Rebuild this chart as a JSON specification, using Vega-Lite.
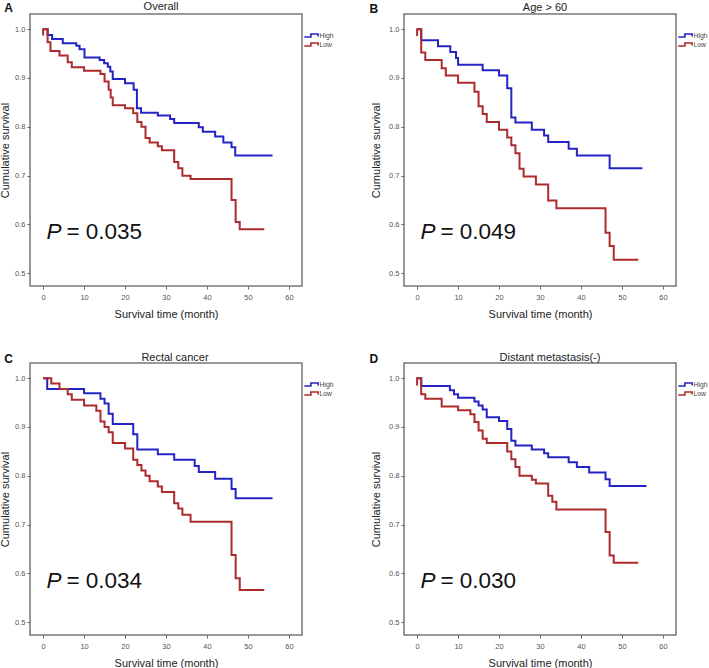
{
  "$schema": "https://vega.github.io/schema/vega-lite/v6.json",
  "padding": {"left": -2, "top": 0, "right": 0, "bottom": 0},
  "background": "white",
  "datasets": {
    "km": [
      {"p":"A","g":"High","i":0,"t":0,"s":1.0},{"p":"A","g":"High","i":1,"t":1.1,"s":0.988},{"p":"A","g":"High","i":2,"t":2.2,"s":0.98},{"p":"A","g":"High","i":3,"t":4.8,"s":0.971},{"p":"A","g":"High","i":4,"t":8.1,"s":0.966},{"p":"A","g":"High","i":5,"t":8.9,"s":0.959},{"p":"A","g":"High","i":6,"t":10.1,"s":0.942},{"p":"A","g":"High","i":7,"t":13.8,"s":0.937},{"p":"A","g":"High","i":8,"t":14.9,"s":0.93},{"p":"A","g":"High","i":9,"t":15.8,"s":0.923},{"p":"A","g":"High","i":10,"t":16.4,"s":0.913},{"p":"A","g":"High","i":11,"t":17,"s":0.898},{"p":"A","g":"High","i":12,"t":20,"s":0.889},{"p":"A","g":"High","i":13,"t":22.1,"s":0.876},{"p":"A","g":"High","i":14,"t":22.9,"s":0.838},{"p":"A","g":"High","i":15,"t":23.9,"s":0.829},{"p":"A","g":"High","i":16,"t":28,"s":0.823},{"p":"A","g":"High","i":17,"t":31,"s":0.816},{"p":"A","g":"High","i":18,"t":32,"s":0.808},{"p":"A","g":"High","i":19,"t":38,"s":0.799},{"p":"A","g":"High","i":20,"t":39,"s":0.79},{"p":"A","g":"High","i":21,"t":42,"s":0.78},{"p":"A","g":"High","i":22,"t":44,"s":0.768},{"p":"A","g":"High","i":23,"t":46,"s":0.758},{"p":"A","g":"High","i":24,"t":46.9,"s":0.741},{"p":"A","g":"High","i":25,"t":56,"s":0.741},
      {"p":"A","g":"Low","i":0,"t":0,"s":0.987},{"p":"A","g":"Low","i":1,"t":0,"s":1.0},{"p":"A","g":"Low","i":2,"t":1.1,"s":0.973},{"p":"A","g":"Low","i":3,"t":1.8,"s":0.955},{"p":"A","g":"Low","i":4,"t":4,"s":0.946},{"p":"A","g":"Low","i":5,"t":6,"s":0.932},{"p":"A","g":"Low","i":6,"t":7,"s":0.922},{"p":"A","g":"Low","i":7,"t":10,"s":0.915},{"p":"A","g":"Low","i":8,"t":14,"s":0.908},{"p":"A","g":"Low","i":9,"t":15,"s":0.893},{"p":"A","g":"Low","i":10,"t":16,"s":0.876},{"p":"A","g":"Low","i":11,"t":16.5,"s":0.86},{"p":"A","g":"Low","i":12,"t":17,"s":0.844},{"p":"A","g":"Low","i":13,"t":20,"s":0.838},{"p":"A","g":"Low","i":14,"t":22,"s":0.828},{"p":"A","g":"Low","i":15,"t":23,"s":0.81},{"p":"A","g":"Low","i":16,"t":24,"s":0.8},{"p":"A","g":"Low","i":17,"t":25,"s":0.777},{"p":"A","g":"Low","i":18,"t":26,"s":0.768},{"p":"A","g":"Low","i":19,"t":28,"s":0.76},{"p":"A","g":"Low","i":20,"t":29,"s":0.752},{"p":"A","g":"Low","i":21,"t":32,"s":0.728},{"p":"A","g":"Low","i":22,"t":33,"s":0.715},{"p":"A","g":"Low","i":23,"t":34,"s":0.7},{"p":"A","g":"Low","i":24,"t":36,"s":0.693},{"p":"A","g":"Low","i":25,"t":46,"s":0.65},{"p":"A","g":"Low","i":26,"t":47,"s":0.605},{"p":"A","g":"Low","i":27,"t":48,"s":0.59},{"p":"A","g":"Low","i":28,"t":54,"s":0.59},
      {"p":"B","g":"High","i":0,"t":0,"s":1.0},{"p":"B","g":"High","i":1,"t":1,"s":0.977},{"p":"B","g":"High","i":2,"t":5.1,"s":0.965},{"p":"B","g":"High","i":3,"t":8.1,"s":0.953},{"p":"B","g":"High","i":4,"t":9.5,"s":0.941},{"p":"B","g":"High","i":5,"t":10,"s":0.927},{"p":"B","g":"High","i":6,"t":16,"s":0.916},{"p":"B","g":"High","i":7,"t":20,"s":0.905},{"p":"B","g":"High","i":8,"t":22,"s":0.879},{"p":"B","g":"High","i":9,"t":23,"s":0.819},{"p":"B","g":"High","i":10,"t":24,"s":0.809},{"p":"B","g":"High","i":11,"t":28,"s":0.794},{"p":"B","g":"High","i":12,"t":31,"s":0.782},{"p":"B","g":"High","i":13,"t":32,"s":0.769},{"p":"B","g":"High","i":14,"t":37,"s":0.755},{"p":"B","g":"High","i":15,"t":39,"s":0.741},{"p":"B","g":"High","i":16,"t":47,"s":0.715},{"p":"B","g":"High","i":17,"t":55,"s":0.715},
      {"p":"B","g":"Low","i":0,"t":0,"s":0.986},{"p":"B","g":"Low","i":1,"t":0,"s":1.0},{"p":"B","g":"Low","i":2,"t":1,"s":0.952},{"p":"B","g":"Low","i":3,"t":2,"s":0.937},{"p":"B","g":"Low","i":4,"t":6,"s":0.92},{"p":"B","g":"Low","i":5,"t":7,"s":0.905},{"p":"B","g":"Low","i":6,"t":10,"s":0.89},{"p":"B","g":"Low","i":7,"t":14,"s":0.872},{"p":"B","g":"Low","i":8,"t":15,"s":0.842},{"p":"B","g":"Low","i":9,"t":16,"s":0.826},{"p":"B","g":"Low","i":10,"t":17,"s":0.81},{"p":"B","g":"Low","i":11,"t":20,"s":0.794},{"p":"B","g":"Low","i":12,"t":22,"s":0.778},{"p":"B","g":"Low","i":13,"t":23,"s":0.762},{"p":"B","g":"Low","i":14,"t":24,"s":0.746},{"p":"B","g":"Low","i":15,"t":25,"s":0.714},{"p":"B","g":"Low","i":16,"t":26,"s":0.698},{"p":"B","g":"Low","i":17,"t":29,"s":0.682},{"p":"B","g":"Low","i":18,"t":32,"s":0.649},{"p":"B","g":"Low","i":19,"t":34,"s":0.633},{"p":"B","g":"Low","i":20,"t":46,"s":0.583},{"p":"B","g":"Low","i":21,"t":47,"s":0.556},{"p":"B","g":"Low","i":22,"t":48,"s":0.528},{"p":"B","g":"Low","i":23,"t":54,"s":0.528},
      {"p":"C","g":"High","i":0,"t":0,"s":1.0},{"p":"C","g":"High","i":1,"t":1,"s":0.978},{"p":"C","g":"High","i":2,"t":10,"s":0.969},{"p":"C","g":"High","i":3,"t":14,"s":0.958},{"p":"C","g":"High","i":4,"t":15,"s":0.948},{"p":"C","g":"High","i":5,"t":16,"s":0.927},{"p":"C","g":"High","i":6,"t":17,"s":0.906},{"p":"C","g":"High","i":7,"t":22,"s":0.885},{"p":"C","g":"High","i":8,"t":23,"s":0.854},{"p":"C","g":"High","i":9,"t":28,"s":0.844},{"p":"C","g":"High","i":10,"t":32,"s":0.833},{"p":"C","g":"High","i":11,"t":37,"s":0.82},{"p":"C","g":"High","i":12,"t":38,"s":0.808},{"p":"C","g":"High","i":13,"t":42,"s":0.794},{"p":"C","g":"High","i":14,"t":46,"s":0.773},{"p":"C","g":"High","i":15,"t":47,"s":0.754},{"p":"C","g":"High","i":16,"t":56,"s":0.754},
      {"p":"C","g":"Low","i":0,"t":0,"s":1.0},{"p":"C","g":"Low","i":1,"t":2,"s":0.989},{"p":"C","g":"Low","i":2,"t":4,"s":0.978},{"p":"C","g":"Low","i":3,"t":6,"s":0.967},{"p":"C","g":"Low","i":4,"t":7,"s":0.956},{"p":"C","g":"Low","i":5,"t":10,"s":0.944},{"p":"C","g":"Low","i":6,"t":13,"s":0.933},{"p":"C","g":"Low","i":7,"t":14,"s":0.911},{"p":"C","g":"Low","i":8,"t":15,"s":0.9},{"p":"C","g":"Low","i":9,"t":16,"s":0.889},{"p":"C","g":"Low","i":10,"t":17,"s":0.867},{"p":"C","g":"Low","i":11,"t":20,"s":0.856},{"p":"C","g":"Low","i":12,"t":22,"s":0.833},{"p":"C","g":"Low","i":13,"t":23,"s":0.822},{"p":"C","g":"Low","i":14,"t":24,"s":0.811},{"p":"C","g":"Low","i":15,"t":25,"s":0.8},{"p":"C","g":"Low","i":16,"t":26,"s":0.789},{"p":"C","g":"Low","i":17,"t":28,"s":0.778},{"p":"C","g":"Low","i":18,"t":29,"s":0.767},{"p":"C","g":"Low","i":19,"t":32,"s":0.744},{"p":"C","g":"Low","i":20,"t":33,"s":0.733},{"p":"C","g":"Low","i":21,"t":34,"s":0.72},{"p":"C","g":"Low","i":22,"t":36,"s":0.706},{"p":"C","g":"Low","i":23,"t":46,"s":0.638},{"p":"C","g":"Low","i":24,"t":47,"s":0.59},{"p":"C","g":"Low","i":25,"t":48,"s":0.566},{"p":"C","g":"Low","i":26,"t":54,"s":0.566},
      {"p":"D","g":"High","i":0,"t":0,"s":1.0},{"p":"D","g":"High","i":1,"t":1,"s":0.984},{"p":"D","g":"High","i":2,"t":8,"s":0.975},{"p":"D","g":"High","i":3,"t":9,"s":0.967},{"p":"D","g":"High","i":4,"t":10,"s":0.96},{"p":"D","g":"High","i":5,"t":14,"s":0.952},{"p":"D","g":"High","i":6,"t":15,"s":0.944},{"p":"D","g":"High","i":7,"t":16,"s":0.936},{"p":"D","g":"High","i":8,"t":17,"s":0.92},{"p":"D","g":"High","i":9,"t":20,"s":0.912},{"p":"D","g":"High","i":10,"t":22,"s":0.896},{"p":"D","g":"High","i":11,"t":23,"s":0.872},{"p":"D","g":"High","i":12,"t":24,"s":0.862},{"p":"D","g":"High","i":13,"t":28,"s":0.854},{"p":"D","g":"High","i":14,"t":31,"s":0.846},{"p":"D","g":"High","i":15,"t":32,"s":0.838},{"p":"D","g":"High","i":16,"t":37,"s":0.828},{"p":"D","g":"High","i":17,"t":39,"s":0.818},{"p":"D","g":"High","i":18,"t":42,"s":0.807},{"p":"D","g":"High","i":19,"t":46,"s":0.793},{"p":"D","g":"High","i":20,"t":47,"s":0.779},{"p":"D","g":"High","i":21,"t":56,"s":0.779},
      {"p":"D","g":"Low","i":0,"t":0,"s":0.985},{"p":"D","g":"Low","i":1,"t":0,"s":1.0},{"p":"D","g":"Low","i":2,"t":1,"s":0.967},{"p":"D","g":"Low","i":3,"t":2,"s":0.958},{"p":"D","g":"Low","i":4,"t":6,"s":0.942},{"p":"D","g":"Low","i":5,"t":10,"s":0.934},{"p":"D","g":"Low","i":6,"t":13,"s":0.926},{"p":"D","g":"Low","i":7,"t":14,"s":0.91},{"p":"D","g":"Low","i":8,"t":15,"s":0.893},{"p":"D","g":"Low","i":9,"t":16,"s":0.876},{"p":"D","g":"Low","i":10,"t":17,"s":0.867},{"p":"D","g":"Low","i":11,"t":22,"s":0.85},{"p":"D","g":"Low","i":12,"t":23,"s":0.834},{"p":"D","g":"Low","i":13,"t":24,"s":0.818},{"p":"D","g":"Low","i":14,"t":25,"s":0.8},{"p":"D","g":"Low","i":15,"t":28,"s":0.792},{"p":"D","g":"Low","i":16,"t":29,"s":0.784},{"p":"D","g":"Low","i":17,"t":32,"s":0.759},{"p":"D","g":"Low","i":18,"t":33,"s":0.747},{"p":"D","g":"Low","i":19,"t":34,"s":0.731},{"p":"D","g":"Low","i":20,"t":46,"s":0.685},{"p":"D","g":"Low","i":21,"t":47,"s":0.637},{"p":"D","g":"Low","i":22,"t":48,"s":0.622},{"p":"D","g":"Low","i":23,"t":54,"s":0.622}
    ],
    "pv": [
      {"p":"A","v":"= 0.035"},{"p":"B","v":"= 0.049"},{"p":"C","v":"= 0.034"},{"p":"D","v":"= 0.030"}
    ]
  },
  "config": {
    "font": "Liberation Sans",
    "view": {"stroke": "#777", "strokeWidth": 1.5},
    "axis": {"domain": false, "grid": false, "tickColor": "#666", "tickSize": 3, "labelFontSize": 7.5, "labelColor": "#555", "titleFontSize": 11, "titleFontWeight": "normal", "titleColor": "#222", "labelPadding": 2},
    "axisX": {"titlePadding": 8, "labelPadding": 4},
    "axisY": {"titlePadding": 4},
    "title": {"fontSize": 11, "fontWeight": "normal", "color": "#222", "offset": -10},
    "legend": {"orient": "none", "legendX": 280.5, "legendY": 17.5, "title": null, "symbolType": "M-3.4,0.5H-1.2V-0.5H1.2V0.3", "symbolSize": 36, "symbolStrokeWidth": 1.6, "symbolFillColor": "transparent", "labelFontSize": 6.8, "labelColor": "#444", "labelOffset": 1, "rowPadding": -1.7, "padding": 0}
  },
  "resolve": {"scale": {"color": "independent"}},
  "columns": 2,
  "spacing": {"row": 77, "column": 102},
  "bounds": "flush",
  "concat": [
    {
      "width": 272, "height": 272,
      "title": {"text": "Overall", "dx": -5},
      "layer": [
        {"data": {"name": "km"}, "transform": [{"filter": "datum.p == 'A'"}],
         "mark": {"type": "line", "interpolate": "step-after", "strokeWidth": 2},
         "encoding": {
           "x": {"field": "t", "type": "quantitative", "scale": {"domain": [-3.2, 63.2], "nice": false, "zero": false}, "axis": {"values": [0,10,20,30,40,50,60], "title": "Survival time (month)"}},
           "y": {"field": "s", "type": "quantitative", "scale": {"domain": [0.474, 1.031], "nice": false, "zero": false}, "axis": {"values": [0.5,0.6,0.7,0.8,0.9,1.0], "format": ".1f", "title": "Cumulative survival"}},
           "color": {"field": "g", "type": "nominal", "scale": {"domain": ["High","Low"], "range": ["#2424c4", "#ad2a2d"]}},
           "order": {"field": "i", "type": "quantitative"}
         }},
        {"data": {"name": "pv"}, "transform": [{"filter": "datum.p == 'A'"}],
         "mark": {"type": "text", "text": "P", "fontStyle": "italic", "fontSize": 22.5, "align": "left", "baseline": "alphabetic", "color": "#111"},
         "encoding": {"x": {"datum": 0.8, "type": "quantitative"}, "y": {"datum": 0.57, "type": "quantitative"}}},
        {"data": {"name": "pv"}, "transform": [{"filter": "datum.p == 'A'"}],
         "mark": {"type": "text", "fontSize": 22.5, "align": "left", "baseline": "alphabetic", "dx": 20, "color": "#111"},
         "encoding": {"text": {"field": "v"}, "x": {"datum": 0.8, "type": "quantitative"}, "y": {"datum": 0.57, "type": "quantitative"}}},
        {"data": {"name": "pv"}, "transform": [{"filter": "datum.p == 'A'"}],
         "mark": {"type": "text", "fontSize": 12, "fontWeight": "bold", "align": "left", "baseline": "alphabetic", "color": "#111"},
         "encoding": {"text": {"field": "p"}, "x": {"datum": -9.5, "type": "quantitative"}, "y": {"datum": 1.035, "type": "quantitative"}}}
      ]
    },
    {
      "width": 272, "height": 272,
      "title": {"text": "Age > 60", "dx": 5},
      "layer": [
        {"data": {"name": "km"}, "transform": [{"filter": "datum.p == 'B'"}],
         "mark": {"type": "line", "interpolate": "step-after", "strokeWidth": 2},
         "encoding": {
           "x": {"field": "t", "type": "quantitative", "scale": {"domain": [-3.2, 63.2], "nice": false, "zero": false}, "axis": {"values": [0,10,20,30,40,50,60], "title": "Survival time (month)"}},
           "y": {"field": "s", "type": "quantitative", "scale": {"domain": [0.474, 1.031], "nice": false, "zero": false}, "axis": {"values": [0.5,0.6,0.7,0.8,0.9,1.0], "format": ".1f", "title": "Cumulative survival", "titlePadding": 7}},
           "color": {"field": "g", "type": "nominal", "scale": {"domain": ["High","Low"], "range": ["#2424c4", "#ad2a2d"]}},
           "order": {"field": "i", "type": "quantitative"}
         }},
        {"data": {"name": "pv"}, "transform": [{"filter": "datum.p == 'B'"}],
         "mark": {"type": "text", "text": "P", "fontStyle": "italic", "fontSize": 22.5, "align": "left", "baseline": "alphabetic", "color": "#111"},
         "encoding": {"x": {"datum": 0.8, "type": "quantitative"}, "y": {"datum": 0.57, "type": "quantitative"}}},
        {"data": {"name": "pv"}, "transform": [{"filter": "datum.p == 'B'"}],
         "mark": {"type": "text", "fontSize": 22.5, "align": "left", "baseline": "alphabetic", "dx": 20, "color": "#111"},
         "encoding": {"text": {"field": "v"}, "x": {"datum": 0.8, "type": "quantitative"}, "y": {"datum": 0.57, "type": "quantitative"}}},
        {"data": {"name": "pv"}, "transform": [{"filter": "datum.p == 'B'"}],
         "mark": {"type": "text", "fontSize": 12, "fontWeight": "bold", "align": "left", "baseline": "alphabetic", "color": "#111"},
         "encoding": {"text": {"field": "p"}, "x": {"datum": -11.6, "type": "quantitative"}, "y": {"datum": 1.033, "type": "quantitative"}}}
      ]
    },
    {
      "width": 272, "height": 272,
      "title": {"text": "Rectal cancer", "dx": 9},
      "layer": [
        {"data": {"name": "km"}, "transform": [{"filter": "datum.p == 'C'"}],
         "mark": {"type": "line", "interpolate": "step-after", "strokeWidth": 2},
         "encoding": {
           "x": {"field": "t", "type": "quantitative", "scale": {"domain": [-3.2, 63.2], "nice": false, "zero": false}, "axis": {"values": [0,10,20,30,40,50,60], "title": "Survival time (month)"}},
           "y": {"field": "s", "type": "quantitative", "scale": {"domain": [0.474, 1.031], "nice": false, "zero": false}, "axis": {"values": [0.5,0.6,0.7,0.8,0.9,1.0], "format": ".1f", "title": "Cumulative survival"}},
           "color": {"field": "g", "type": "nominal", "scale": {"domain": ["High","Low"], "range": ["#2424c4", "#ad2a2d"]}},
           "order": {"field": "i", "type": "quantitative"}
         }},
        {"data": {"name": "pv"}, "transform": [{"filter": "datum.p == 'C'"}],
         "mark": {"type": "text", "text": "P", "fontStyle": "italic", "fontSize": 22.5, "align": "left", "baseline": "alphabetic", "color": "#111"},
         "encoding": {"x": {"datum": 0.8, "type": "quantitative"}, "y": {"datum": 0.57, "type": "quantitative"}}},
        {"data": {"name": "pv"}, "transform": [{"filter": "datum.p == 'C'"}],
         "mark": {"type": "text", "fontSize": 22.5, "align": "left", "baseline": "alphabetic", "dx": 20, "color": "#111"},
         "encoding": {"text": {"field": "v"}, "x": {"datum": 0.8, "type": "quantitative"}, "y": {"datum": 0.57, "type": "quantitative"}}},
        {"data": {"name": "pv"}, "transform": [{"filter": "datum.p == 'C'"}],
         "mark": {"type": "text", "fontSize": 12, "fontWeight": "bold", "align": "left", "baseline": "alphabetic", "color": "#111"},
         "encoding": {"text": {"field": "p"}, "x": {"datum": -9.5, "type": "quantitative"}, "y": {"datum": 1.031, "type": "quantitative"}}}
      ]
    },
    {
      "width": 272, "height": 272,
      "title": {"text": "Distant metastasis(-)", "dx": 10},
      "layer": [
        {"data": {"name": "km"}, "transform": [{"filter": "datum.p == 'D'"}],
         "mark": {"type": "line", "interpolate": "step-after", "strokeWidth": 2},
         "encoding": {
           "x": {"field": "t", "type": "quantitative", "scale": {"domain": [-3.2, 63.2], "nice": false, "zero": false}, "axis": {"values": [0,10,20,30,40,50,60], "title": "Survival time (month)"}},
           "y": {"field": "s", "type": "quantitative", "scale": {"domain": [0.474, 1.031], "nice": false, "zero": false}, "axis": {"values": [0.5,0.6,0.7,0.8,0.9,1.0], "format": ".1f", "title": "Cumulative survival", "titlePadding": 7}},
           "color": {"field": "g", "type": "nominal", "scale": {"domain": ["High","Low"], "range": ["#2424c4", "#ad2a2d"]}},
           "order": {"field": "i", "type": "quantitative"}
         }},
        {"data": {"name": "pv"}, "transform": [{"filter": "datum.p == 'D'"}],
         "mark": {"type": "text", "text": "P", "fontStyle": "italic", "fontSize": 22.5, "align": "left", "baseline": "alphabetic", "color": "#111"},
         "encoding": {"x": {"datum": 0.8, "type": "quantitative"}, "y": {"datum": 0.57, "type": "quantitative"}}},
        {"data": {"name": "pv"}, "transform": [{"filter": "datum.p == 'D'"}],
         "mark": {"type": "text", "fontSize": 22.5, "align": "left", "baseline": "alphabetic", "dx": 20, "color": "#111"},
         "encoding": {"text": {"field": "v"}, "x": {"datum": 0.8, "type": "quantitative"}, "y": {"datum": 0.57, "type": "quantitative"}}},
        {"data": {"name": "pv"}, "transform": [{"filter": "datum.p == 'D'"}],
         "mark": {"type": "text", "fontSize": 12, "fontWeight": "bold", "align": "left", "baseline": "alphabetic", "color": "#111"},
         "encoding": {"text": {"field": "p"}, "x": {"datum": -11.6, "type": "quantitative"}, "y": {"datum": 1.031, "type": "quantitative"}}}
      ]
    }
  ]
}
